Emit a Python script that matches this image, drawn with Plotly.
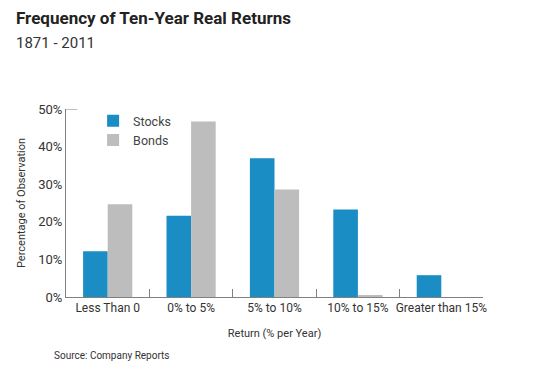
import plotly.graph_objects as go

categories = ["Less Than 0", "0% to 5%", "5% to 10%", "10% to 15%", "Greater than 15%"]
stocks = [12.2, 21.6, 36.9, 23.3, 5.8]
bonds = [24.7, 46.7, 28.6, 0.3, 0.0]
y_ticks = [0, 10, 20, 30, 40, 50]
y_tick_labels = ["0%", "10%", "20%", "30%", "40%", "50%"]

FONT = "Roboto"
BLUE = "#1b8dc5"
GRAY = "#bdbdbd"
AXIS = "#808080"

fig = go.Figure()
fig.add_trace(go.Bar(name="Stocks", x=categories, y=stocks, marker_color=BLUE, marker_line_width=0))
fig.add_trace(go.Bar(name="Bonds", x=categories, y=bonds, marker_color=GRAY, marker_line_width=0))

fig.update_layout(
    width=518, height=355,
    margin=dict(l=58, r=43, t=101, b=66, autoexpand=False),
    paper_bgcolor="white", plot_bgcolor="white",
    barmode="group", bargap=0.41, bargroupgap=0,
    font=dict(family=FONT, color="#333333"),
    showlegend=True,
    legend=dict(x=0.065, y=1.015, xanchor="left", yanchor="top",
                font=dict(size=12.5, color="#444444"), bgcolor="rgba(0,0,0,0)",
                itemwidth=30, tracegroupgap=0),
    xaxis=dict(
        automargin=False,
        showline=True, linecolor=AXIS, linewidth=1,
        ticks="inside", tickson="boundaries", ticklen=8, tickcolor=AXIS,
        tickangle=0,
        tickfont=dict(size=12, color="#333333"),
        title=dict(text="Return (% per Year)", font=dict(size=11, color="#333333"), standoff=14),
        showgrid=False,
    ),
    yaxis=dict(
        automargin=False,
        range=[0, 50], tickmode="array", tickvals=y_ticks, ticktext=y_tick_labels,
        showline=True, linecolor=AXIS, linewidth=1,
        ticks="", showgrid=False, zeroline=False,
        tickfont=dict(size=13, color="#333333"),
        title=dict(text="Percentage of Observation", font=dict(size=11, color="#333333"), standoff=10),
    ),
)

fig.add_shape(type="line", xref="x domain", yref="y", x0=0, x1=0.027, y0=50, y1=50,
              line=dict(color=AXIS, width=1))

fig.add_annotation(text="<b>Frequency of Ten-Year Real Returns</b>", xref="paper", yref="paper",
                   xanchor="left", yanchor="middle", x=(14 - 66) / 417, y=1 + (109 - 18) / 188,
                   showarrow=False, font=dict(size=17, color="#222222"))
fig.add_annotation(text="1871 - 2011", xref="paper", yref="paper",
                   xanchor="left", yanchor="middle", x=(14 - 66) / 417, y=1 + (109 - 43) / 188,
                   showarrow=False, font=dict(size=15, color="#333333"))
fig.add_annotation(text="Source: Company Reports", xref="paper", yref="paper",
                   xanchor="left", yanchor="middle", x=(52 - 66) / 417, y=-(355 - 297) / 188,
                   showarrow=False, font=dict(size=10, color="#333333"))

fig.write_html("out.html")
